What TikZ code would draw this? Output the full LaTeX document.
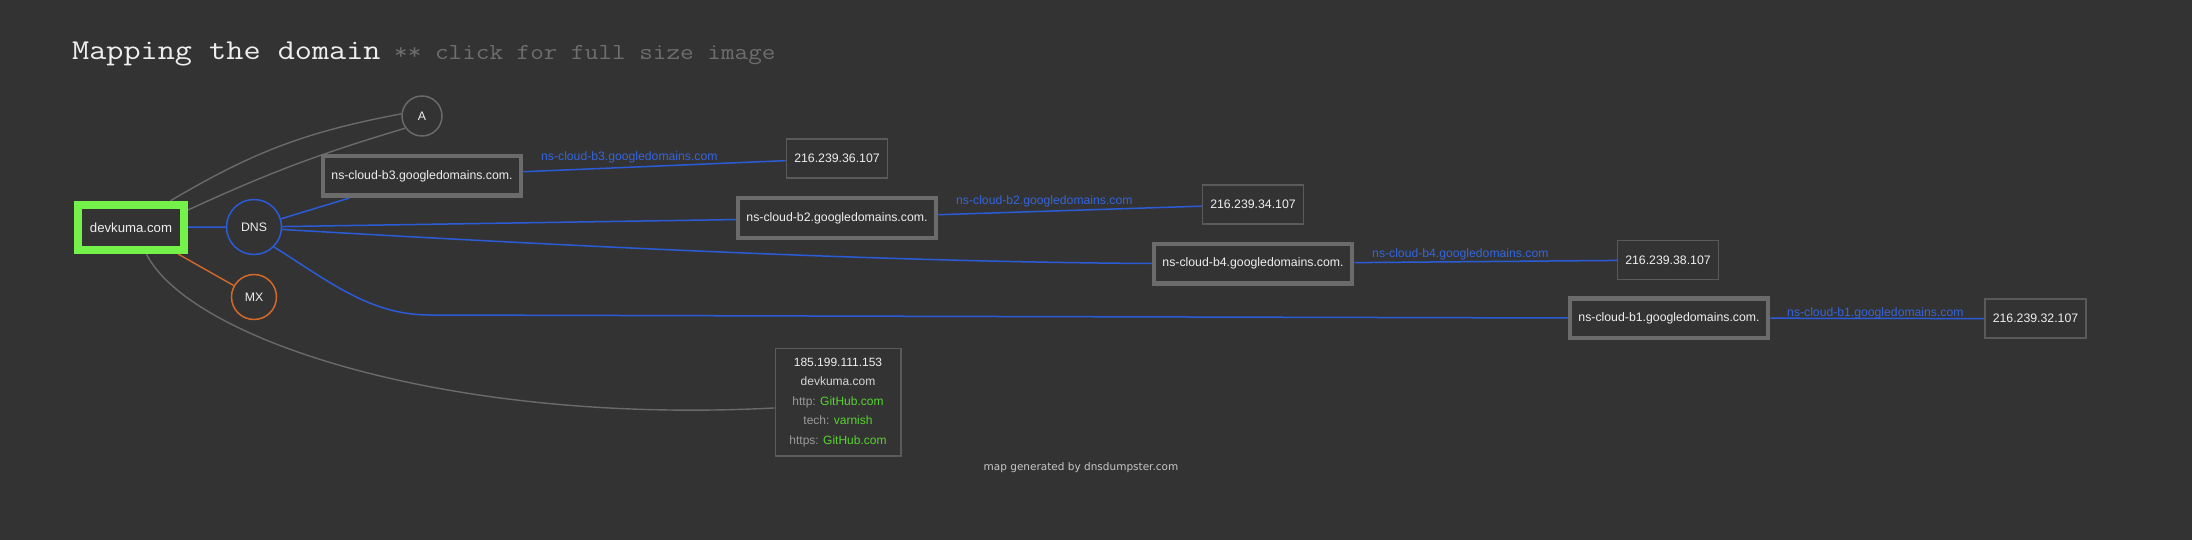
\documentclass[tikz,border=0pt]{standalone}
\usepackage{fontspec}
\setmainfont{Liberation Sans}
\newfontfamily\titlefont[FakeStretch=1.155]{Latin Modern Mono}
\newfontfamily\notefont{DejaVu Sans}
\usetikzlibrary{calc}
\definecolor{bg}{HTML}{333333}
\definecolor{nodetext}{HTML}{EEEEEE}
\definecolor{nsgrey}{HTML}{6B6B6B}
\definecolor{ipgrey}{HTML}{5A5A5A}
\definecolor{edgeblue}{HTML}{2B5BD6}
\definecolor{lblblue}{HTML}{3565DA}
\definecolor{edgegrey}{HTML}{6A6A6A}
\definecolor{dkgreen}{HTML}{74F24A}
\definecolor{mxorange}{HTML}{D2692A}
\definecolor{infogreen}{HTML}{58D431}
\definecolor{infogrey}{HTML}{9A9A9A}
\definecolor{subgrey}{HTML}{6E6E6E}
\definecolor{notegrey}{HTML}{C8C8C8}
\pgfdeclarelayer{bgl}
\pgfdeclarelayer{edges}
\pgfsetlayers{bgl,edges,main}
\begin{document}
\begin{tikzpicture}[x=1pt,y=-1pt,
  txt/.style={text=nodetext,font=\fontsize{12.3}{14}\selectfont},
  circ/.style={circle,draw,line width=1.5pt,fill=bg,txt,inner sep=0pt},
  nsbox/.style={draw=nsgrey,line width=4.5pt,fill=bg,minimum width=198pt,minimum height=39.5pt,inner sep=0pt,txt},
  ipbox/.style={draw=ipgrey,line width=1.5pt,fill=bg,minimum width=101pt,minimum height=39pt,inner sep=0pt,txt},
  blueedge/.style={draw=edgeblue,line width=1.5pt},
  greyedge/.style={draw=edgegrey,line width=1.4pt},
  lbl/.style={text=lblblue,font=\fontsize{12.2}{14}\selectfont,anchor=west,inner sep=0pt}
]
\begin{pgfonlayer}{bgl}
\fill[bg] (0,0) rectangle (2192,540);
\end{pgfonlayer}
\useasboundingbox (0,0) rectangle (2192,540);

% title
\node[anchor=base west,inner sep=0pt,text=nodetext] (title) at (72,60)
  {\titlefont\fontsize{28.8}{30}\selectfont Mapping the domain{\fontsize{22.9}{24}\selectfont\color{subgrey}\ ** click for full size image}};

% main nodes
\node[draw=dkgreen,line width=8pt,fill=bg,minimum width=106pt,minimum height=45.3pt,inner sep=0pt,text=nodetext,font=\fontsize{13.2}{15}\selectfont] (dk) at (131,227.4) {devkuma.com};
\node[circ,draw=edgegrey,minimum size=40pt] (A) at (422,116) {A};
\node[circ,draw=edgeblue,minimum size=55pt] (dns) at (254,227) {DNS};
\node[circ,draw=mxorange,minimum size=45pt] (mx) at (254,297) {MX};

\node[nsbox] (b3) at (422,176) {ns-cloud-b3.googledomains.com.};
\node[nsbox] (b2) at (837,218) {ns-cloud-b2.googledomains.com.};
\node[nsbox] (b4) at (1253,263.5) {ns-cloud-b4.googledomains.com.};
\node[nsbox] (b1) at (1669,318) {ns-cloud-b1.googledomains.com.};

\node[ipbox] (ip36) at (837,158.5) {216.239.36.107};
\node[ipbox] (ip34) at (1253,204.5) {216.239.34.107};
\node[ipbox] (ip38) at (1668,260) {216.239.38.107};
\node[ipbox] (ip32) at (2035.5,318.7) {216.239.32.107};

\node[draw=ipgrey,line width=1.5pt,fill=bg,minimum width=125.5pt,minimum height=107.5pt,align=center,inner sep=0pt,text=nodetext,font=\fontsize{12}{19.6}\selectfont] (info) at (838,402.4)
  {185.199.111.153\\
   {\color{nodetext!90!black}devkuma.com}\\
   {\color{infogrey}http:} {\color{infogreen}GitHub.com}\\
   {\color{infogrey}tech:} {\color{infogreen}varnish}\\
   {\color{infogrey}https:} {\color{infogreen}GitHub.com}};

% edge labels
\node[lbl] (l3) at (541,157) {ns-cloud-b3.googledomains.com};
\node[lbl] (l2) at (956,201.3) {ns-cloud-b2.googledomains.com};
\node[lbl] (l4) at (1372,254.4) {ns-cloud-b4.googledomains.com};
\node[lbl] (l1) at (1787,313.2) {ns-cloud-b1.googledomains.com};

\node[text=notegrey,font=\notefont\fontsize{10.5}{12}\selectfont,inner sep=0pt] (note) at (1081,468) {map generated by dnsdumpster.com};

% connectors
\begin{pgfonlayer}{edges}
\draw[greyedge] (dk.34) to[bend left=10] (A.174);
\draw[greyedge] (dk.17) to[bend left=4] (A.216);
\draw[greyedge] (dk.-60) .. controls (190,340) and (450,425) .. (info.185);
\draw[draw=mxorange,line width=1.4pt] (dk) -- (mx);
\draw[blueedge] (dk) -- (dns);
\draw[blueedge] (dns) -- (b3);
\draw[blueedge] (dns) -- (b2);
\draw[blueedge] (dns.-5) .. controls (600,248) and (900,262) .. (b4.west);
\draw[blueedge] (dns.-45) .. controls (330,282) and (370,315) .. (430,315) -- (b1.west);
\draw[blueedge] (b3) -- (ip36);
\draw[blueedge] (b2) -- (ip34);
\draw[blueedge] (b4) -- (ip38);
\draw[blueedge] (b1) -- (ip32);
\end{pgfonlayer}
\end{tikzpicture}
\end{document}
